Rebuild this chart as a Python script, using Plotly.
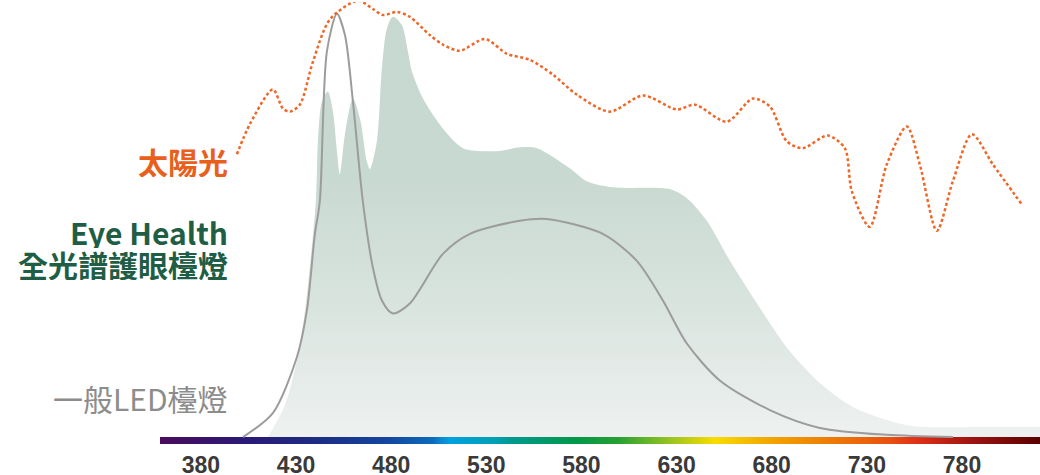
import plotly.graph_objects as go

# Wavelength ticks (nm)
tick_vals = [380, 430, 480, 530, 580, 630, 680, 730, 780]

# Sunlight spectrum (relative intensity)
sun_nm = [398.9, 405.7, 417.8, 423.1, 426.8, 432.0, 438.9, 447.8, 462.5, 470.4, 475.6,
          483.0, 489.8, 500.3, 507.2, 516.1, 529.2, 540.8, 552.9, 565.0, 577.6, 594.9,
          612.3, 630.1, 639.6, 656.4, 670.1, 679.0, 687.9, 696.3, 709.5, 718.4, 722.1,
          731.5, 740.5, 751.0, 757.8, 766.8, 775.2, 785.2, 796.2, 811.4]
sun_val = [65.0, 71.9, 79.9, 75.5, 74.8, 76.4, 86.3, 96.0, 100.3, 98.4, 97.0,
           97.7, 96.6, 92.4, 90.2, 88.8, 91.5, 88.1, 86.7, 83.3, 78.7, 74.8,
           78.5, 75.3, 76.4, 72.5, 77.8, 76.0, 68.0, 66.4, 69.3, 66.4, 56.5,
           48.3, 62.7, 71.4, 62.7, 47.4, 58.8, 69.6, 62.7, 53.5]

# Eye Health full-spectrum lamp
eye_nm = [415.2, 424.1, 430.4, 434.7, 440.4, 441.5, 443.6, 446.7, 449.4, 451.5, 453.0,
          455.7, 459.9, 463.6, 467.2, 468.8, 472.5, 475.1, 477.7, 480.9, 485.6, 488.8,
          490.9, 496.7, 507.2, 517.7, 535.5, 547.6, 556.6, 573.9, 582.8, 596.5, 626.4,
          635.4, 645.9, 658.0, 673.7, 687.9, 705.3, 722.6, 740.5, 754.1, 793.0, 821.0]
eye_val = [0.0, 7.3, 17.6, 29.1, 54.2, 68.0, 77.1, 79.4, 74.8, 65.7, 60.4,
           69.6, 77.8, 73.2, 63.4, 61.6, 68.0, 84.7, 93.8, 96.6, 94.7, 88.6,
           84.0, 77.8, 70.9, 66.4, 65.7, 66.6, 66.4, 61.8, 58.8, 57.4, 57.0,
           54.9, 49.7, 40.5, 29.7, 20.6, 12.4, 6.9, 3.9, 2.5, 2.3, 2.3]

# Ordinary LED lamp
led_nm = [402.1, 417.8, 430.4, 435.7, 439.9, 442.5, 446.2, 451.5, 455.7, 459.9, 465.1,
          470.4, 475.1, 480.9, 489.8, 507.2, 521.4, 547.6, 561.8, 591.2, 609.1, 622.8,
          635.4, 652.7, 679.0, 705.3, 740.5, 775.2]
led_val = [0.0, 5.5, 18.3, 29.1, 46.7, 54.2, 88.6, 97.3, 92.4, 77.1, 54.2,
           38.9, 31.4, 28.4, 30.7, 42.1, 46.7, 49.7, 50.1, 46.7, 40.5, 31.4,
           21.5, 13.0, 6.2, 2.1, 0.5, 0.0]

# Visible spectrum colour bar
spec_range = [358.5, 821.0]
spec_colors = [[0.00, '#4a0c5c'], [0.10, '#2a1a78'], [0.17, '#1d2a82'], [0.26, '#1446a0'],
               [0.31, '#0a6cbc'], [0.32, '#0a8ad0'], [0.33, '#00a0e2'], [0.38, '#00a0b4'],
               [0.40, '#009a8e'], [0.47, '#00984a'], [0.52, '#25a032'], [0.58, '#98c420'],
               [0.63, '#f8dc00'], [0.70, '#f2a000'], [0.78, '#ec7008'], [0.83, '#e85010'],
               [0.86, '#e03018'], [0.92, '#a01410'], [1.00, '#5a0000']]
bar_h = 1.6

fig = go.Figure()

# spectrum bar under the axis
fig.add_trace(go.Scatter(
    x=spec_range, y=[-bar_h, -bar_h], mode='lines', line=dict(width=0),
    fill='tozeroy', fillgradient=dict(type='horizontal', colorscale=spec_colors,
                                      start=spec_range[0], stop=spec_range[1]),
    hoverinfo='skip', showlegend=False))

# Eye Health filled area
fig.add_trace(go.Scatter(
    x=eye_nm, y=eye_val, mode='lines', line=dict(width=0, shape='spline', smoothing=0.8),
    fill='tozeroy',
    fillgradient=dict(type='vertical', start=0, stop=100,
                      colorscale=[[0, '#eef1f0'], [0.35, '#d6e2dc'], [0.6, '#c8d9d1'], [1, '#c6d8cf']]),
    showlegend=False))

# ordinary LED line
fig.add_trace(go.Scatter(
    x=led_nm, y=led_val, mode='lines',
    line=dict(color='#9c9c9c', width=2, shape='spline', smoothing=0.8), showlegend=False))

# sunlight dotted line
fig.add_trace(go.Scatter(
    x=sun_nm, y=sun_val, mode='lines',
    line=dict(color='#ef6626', width=2.5, dash='3px,2.5px', shape='spline', smoothing=0.8),
    showlegend=False))

labels = [
    ('太陽光', 63.5, '#e8601c', 'bold'),
    ('Eye Health', 47.3, '#1f5e45', 'bold'),
    ('全光譜護眼檯燈', 39.8, '#1f5e45', 'bold'),
    ('一般LED檯燈', 9.0, '#8c8c8c', 'normal'),
]
for text, yv, col, w in labels:
    fig.add_annotation(text=text, xref='paper', x=0.0795, xanchor='right',
                       yref='y', y=yv, yanchor='middle', showarrow=False, height=33,
                       font=dict(family='Noto Sans CJK TC', size=30, color=col, weight=w))

fig.update_layout(
    width=1040, height=475,
    margin=dict(l=160, r=0, t=2, b=31),
    paper_bgcolor='white', plot_bgcolor='white',
    xaxis=dict(range=spec_range, tickvals=tick_vals, showgrid=False, zeroline=False,
               showline=False, ticks='', ticklabelstandoff=5, automargin=False,
               tickfont=dict(family='Liberation Sans', size=23, color='#3a3a3a', weight='bold')),
    yaxis=dict(range=[-bar_h, 100], visible=False, showgrid=False, zeroline=False,
               automargin=False),
)

fig.write_html("out.html", config={'displayModeBar': False},
               post_script="document.body.style.margin='0px';")
